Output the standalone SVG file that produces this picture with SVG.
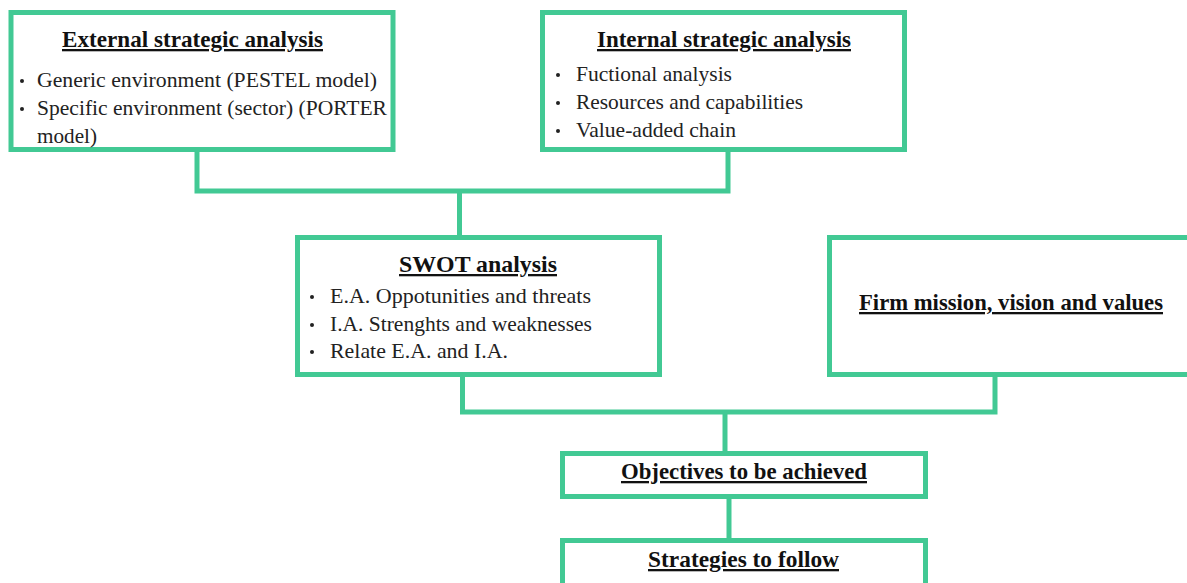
<svg xmlns="http://www.w3.org/2000/svg" width="1187" height="583" viewBox="0 0 1187 583">
<style>
.box{fill:#fff;stroke:#42c994;stroke-width:5}
.con{fill:none;stroke:#42c994;stroke-width:5}
.t{font-family:'Liberation Serif',serif;font-weight:bold;font-size:23px;text-decoration:underline;fill:#111;text-anchor:middle}
.b{font-family:'Liberation Serif',serif;font-size:21.5px;fill:#222}
.d{fill:#222}
</style>
<rect width="1187" height="583" fill="#fff"/>
<g id="connectors">
<polyline class="con" points="197,150 197,191 728,191 728,150"/>
<polyline class="con" points="459.5,191 459.5,237"/>
<polyline class="con" points="462.5,375 462.5,412 995,412 995,375"/>
<polyline class="con" points="725,412 725,453"/>
<polyline class="con" points="729,497 729,540"/>
</g>
<g id="external">
<rect class="box" x="11" y="12.5" width="382" height="137"/>
<text class="t" x="192.5" y="47" textLength="261" lengthAdjust="spacingAndGlyphs">External strategic analysis</text>
<circle class="d" cx="22" cy="81" r="2"/>
<text class="b" x="37" y="87" textLength="340" lengthAdjust="spacingAndGlyphs">Generic environment (PESTEL model)</text>
<circle class="d" cx="22" cy="109" r="2"/>
<text class="b" x="37" y="115" textLength="350" lengthAdjust="spacingAndGlyphs">Specific environment (sector) (PORTER</text>
<text class="b" x="37" y="143" textLength="60" lengthAdjust="spacingAndGlyphs">model)</text>
</g>
<g id="internal">
<rect class="box" x="542.5" y="12.5" width="362" height="137"/>
<text class="t" x="724" y="47" textLength="254" lengthAdjust="spacingAndGlyphs">Internal strategic analysis</text>
<circle class="d" cx="558" cy="75" r="2"/>
<text class="b" x="576" y="81" textLength="156" lengthAdjust="spacingAndGlyphs">Fuctional analysis</text>
<circle class="d" cx="558" cy="103" r="2"/>
<text class="b" x="576" y="109" textLength="227" lengthAdjust="spacingAndGlyphs">Resources and capabilities</text>
<circle class="d" cx="558" cy="131" r="2"/>
<text class="b" x="576" y="137" textLength="160" lengthAdjust="spacingAndGlyphs">Value-added chain</text>
</g>
<g id="swot">
<rect class="box" x="297.5" y="237.5" width="362" height="137"/>
<text class="t" x="478" y="272" textLength="158" lengthAdjust="spacingAndGlyphs">SWOT analysis</text>
<circle class="d" cx="312" cy="297" r="2"/>
<text class="b" x="330" y="303" textLength="261" lengthAdjust="spacingAndGlyphs">E.A. Oppotunities and threats</text>
<circle class="d" cx="312" cy="325" r="2"/>
<text class="b" x="330" y="331" textLength="262" lengthAdjust="spacingAndGlyphs">I.A. Strenghts and weaknesses</text>
<circle class="d" cx="312" cy="352" r="2"/>
<text class="b" x="330" y="358" textLength="178" lengthAdjust="spacingAndGlyphs">Relate E.A. and I.A.</text>
</g>
<g id="firm">
<rect class="box" x="829.5" y="237.5" width="380" height="137"/>
<text class="t" x="1011" y="310" textLength="304" lengthAdjust="spacingAndGlyphs">Firm mission, vision and values</text>
</g>
<g id="objectives">
<rect class="box" x="562.5" y="453.5" width="363" height="43"/>
<text class="t" x="744" y="479" textLength="246" lengthAdjust="spacingAndGlyphs">Objectives to be achieved</text>
</g>
<g id="strategies">
<rect class="box" x="562.5" y="540.5" width="363" height="60"/>
<text class="t" x="743.5" y="567" textLength="191" lengthAdjust="spacingAndGlyphs">Strategies to follow</text>
</g>
</svg>
